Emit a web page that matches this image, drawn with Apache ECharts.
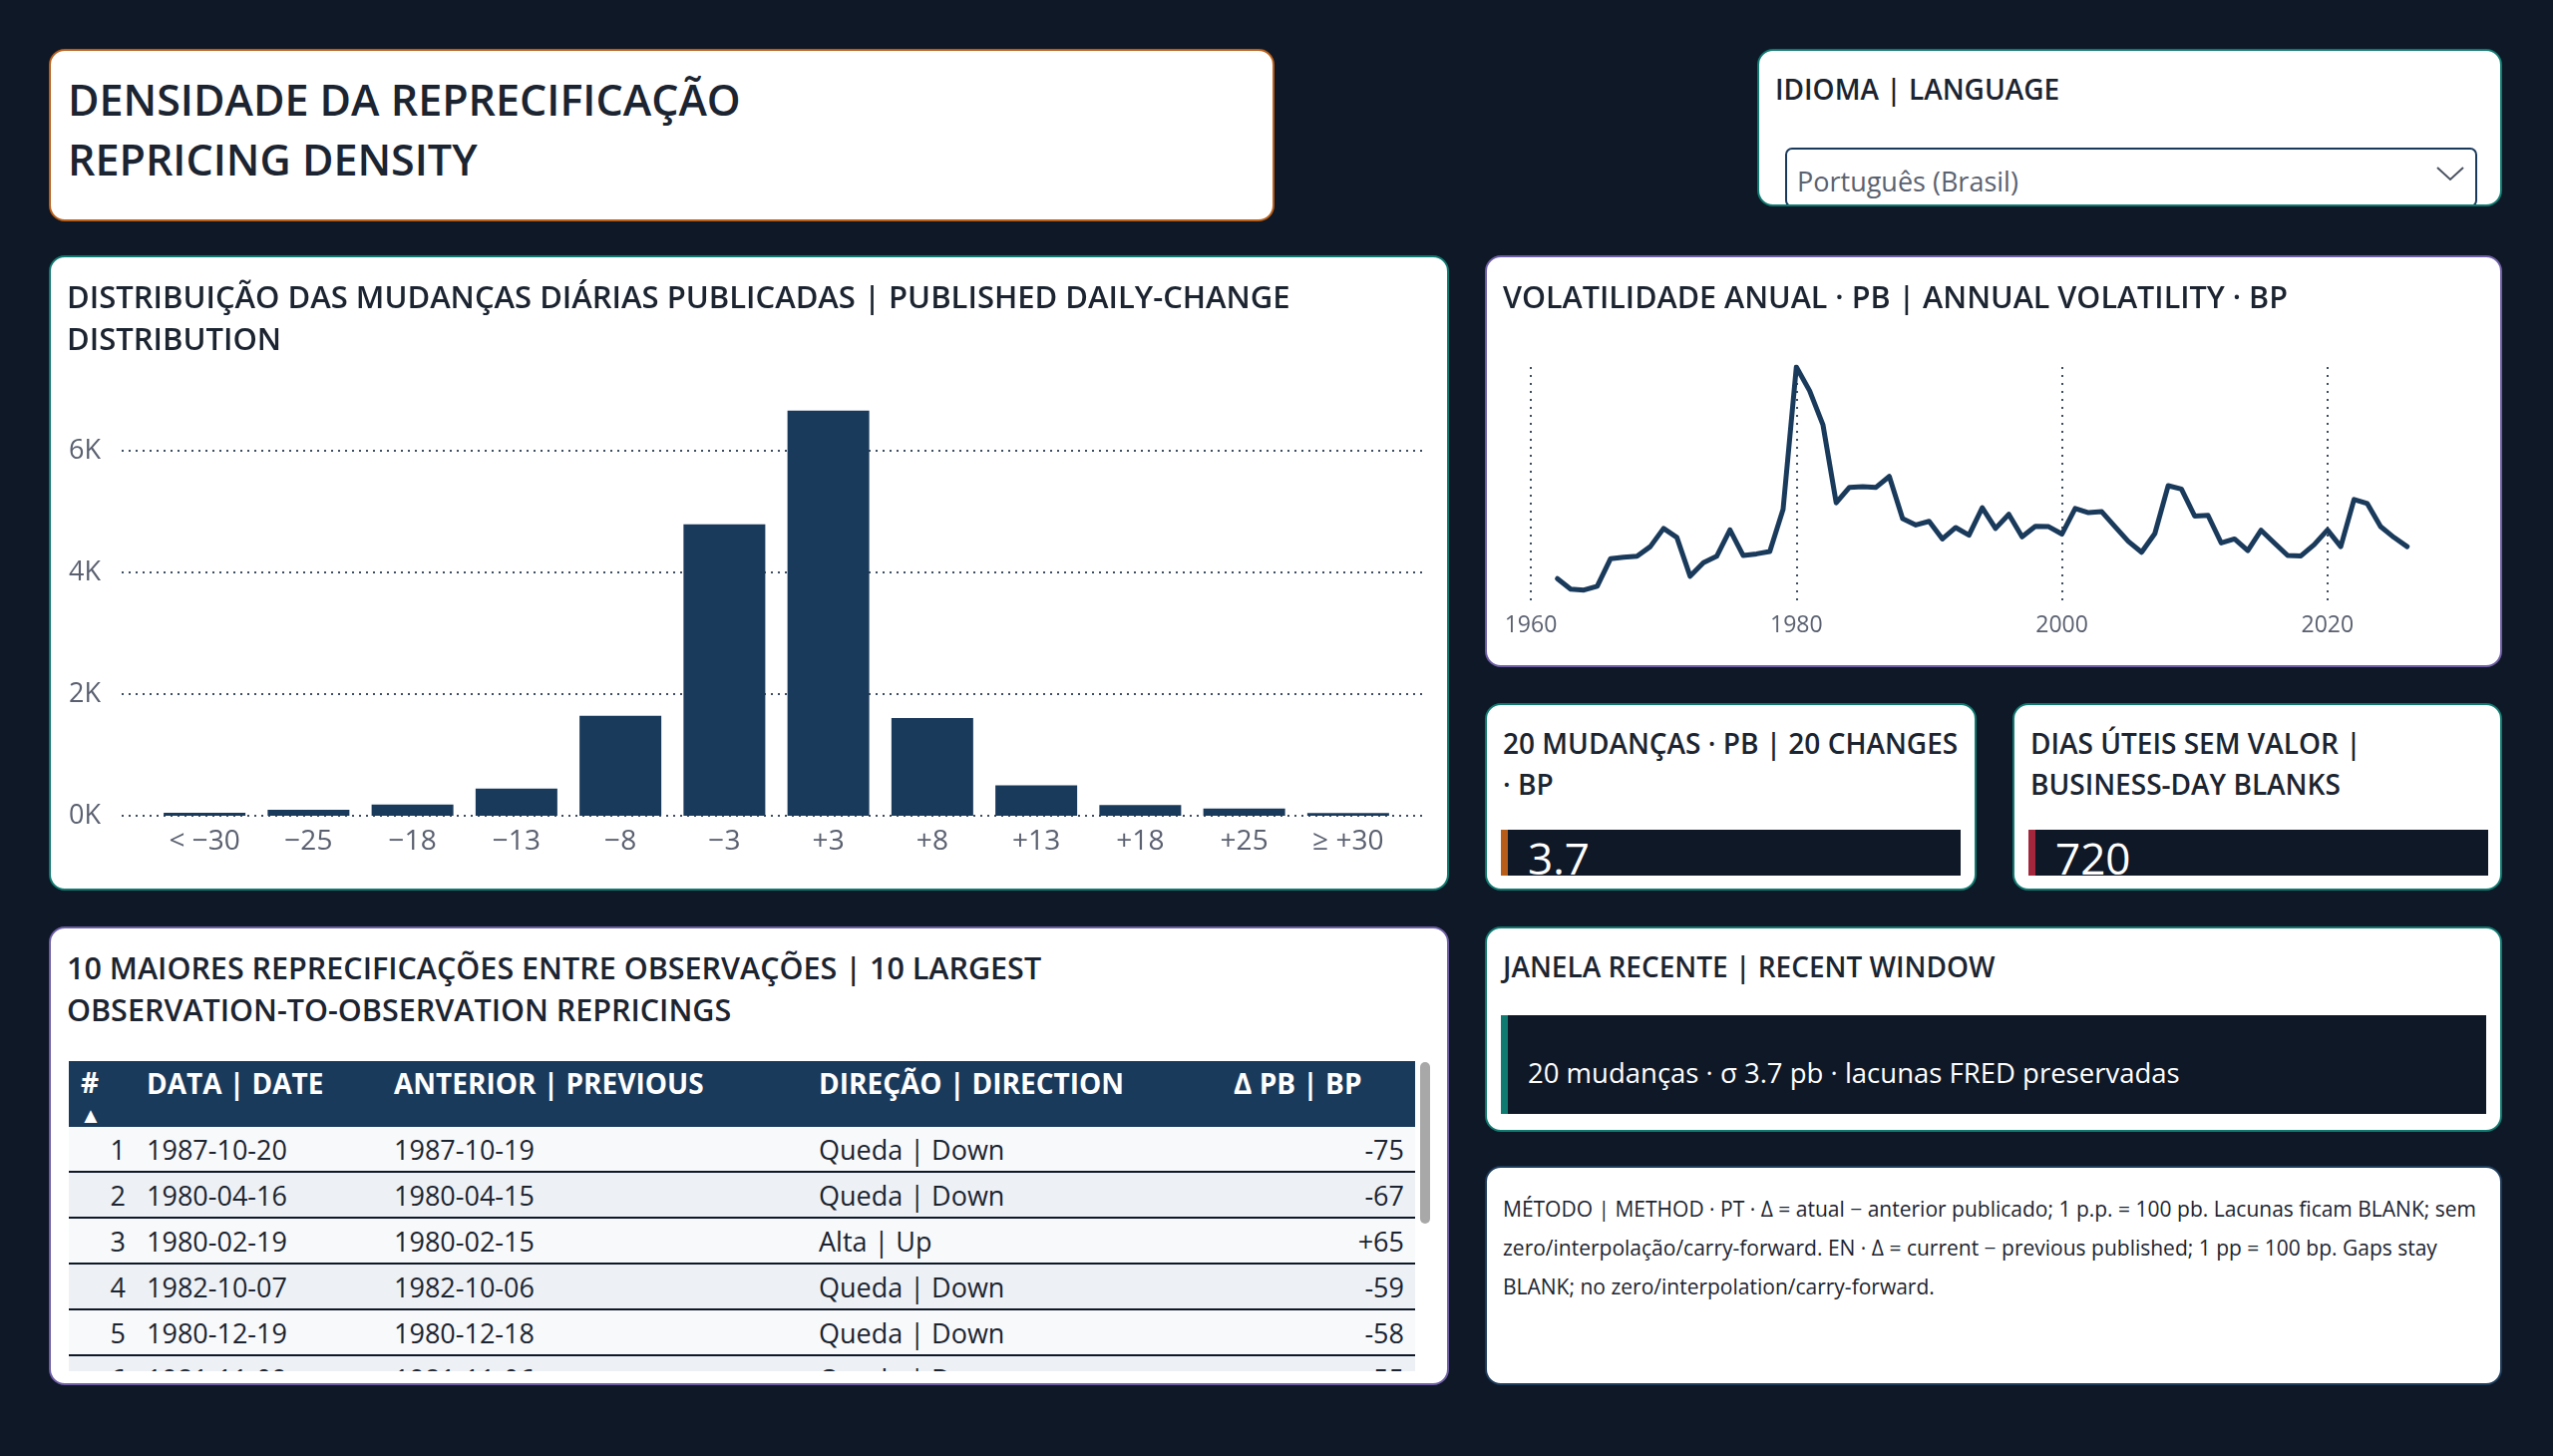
<!DOCTYPE html>
<html>
<head>
<meta charset="utf-8">
<title>Densidade da reprecificação | Repricing density</title>
<script src="https://cdn.jsdelivr.net/npm/echarts@6/dist/echarts.min.js"></script>
<style>
    html, body {
        margin: 0;
        padding: 0;
        width: 2560px;
        height: 1460px;
        background: #0f1827;
        overflow: hidden;
        font-family: 'Segoe UI', 'Open Sans', sans-serif;
        color: #1b2430;
    }
    .card {
        position: absolute;
        box-sizing: border-box;
        background: #ffffff;
        border: 2px solid #0f7a70;
        border-radius: 16px;
        overflow: hidden;
    }
    .card-title {
        position: absolute;
        left: 16px;
        top: 18px;
        font-size: 28px;
        font-weight: 600;
        line-height: 41px;
        white-space: nowrap;
        color: #1b2430;
    }
    .card-title.big {
        font-size: 30.5px;
        line-height: 42px;
    }
    .chart {
        position: absolute;
        left: 0;
        top: 0;
        width: 100%;
        height: 100%;
    }
    .kpi-box {
        position: absolute;
        left: 14px;
        top: 125px;
        width: 461px;
        height: 46px;
        background: #0f1827;
        overflow: hidden;
        box-sizing: border-box;
        border-left: 7px solid #b85c1a;
    }
    .kpi-value {
        position: absolute;
        left: 20px;
        top: 5px;
        font-size: 44px;
        line-height: 46px;
        color: #ffffff;
    }
    table {
        border-collapse: collapse;
        width: 1350px;
        font-size: 27px;
        table-layout: fixed;
    }
    th {
        background: #1a3a5c;
        color: #ffffff;
        font-weight: 700;
        font-size: 28px;
        text-align: left;
        height: 58px;
        vertical-align: top;
        padding: 6px 0 0 0;
        white-space: nowrap;
    }
    td {
        height: 44px;
        padding: 0;
        white-space: nowrap;
        border-bottom: 2px solid #0f1827;
        color: #1b2430;
    }
    tr.odd td { background: #f7f9fb; }
    tr.even td { background: #edf1f5; }
</style>
</head>
<body>

<!-- title -->
<div class="card" style="left:49px; top:49px; width:1229px; height:173px; border-color:#b95f19;">
    <div style="position:absolute; left:17px; top:19px; font-size:43px; font-weight:600; line-height:60px; color:#1b2430;">
        DENSIDADE DA REPRECIFICAÇÃO<br>REPRICING DENSITY
    </div>
</div>

<!-- language slicer -->
<div class="card" style="left:1762px; top:49px; width:747px; height:158px;">
    <div class="card-title">IDIOMA | LANGUAGE</div>
    <div style="position:absolute; left:26px; top:97px; width:694px; height:60px; box-sizing:border-box; border:2px solid #1a3a5c; border-radius:7px;">
        <div style="position:absolute; left:10px; top:12px; font-size:27px; line-height:40px; color:#5a6270;">Português (Brasil)</div>
        <svg style="position:absolute; right:10px; top:14px;" width="30" height="20" viewBox="0 0 30 20">
            <polyline points="2,4 15,16 28,4" fill="none" stroke="#4a5260" stroke-width="2"/>
        </svg>
    </div>
</div>

<!-- histogram -->
<div class="card" style="left:49px; top:256px; width:1404px; height:637px;">
    <div id="hist" class="chart"></div>
    <div class="card-title big" style="font-size:31px;">DISTRIBUIÇÃO DAS MUDANÇAS DIÁRIAS PUBLICADAS | PUBLISHED DAILY-CHANGE<br>DISTRIBUTION</div>
</div>

<!-- annual volatility -->
<div class="card" style="left:1489px; top:256px; width:1020px; height:413px; border-color:#6e5fa5;">
    <div id="vol" class="chart"></div>
    <div class="card-title big">VOLATILIDADE ANUAL · PB | ANNUAL VOLATILITY · BP</div>
</div>

<!-- KPI 1 -->
<div class="card" style="left:1489px; top:705px; width:493px; height:188px;">
    <div class="card-title">20 MUDANÇAS · PB | 20 CHANGES<br>· BP</div>
    <div class="kpi-box"><div class="kpi-value" id="kpi-sigma"></div></div>
</div>

<!-- KPI 2 -->
<div class="card" style="left:2018px; top:705px; width:491px; height:188px;">
    <div class="card-title">DIAS ÚTEIS SEM VALOR |<br>BUSINESS-DAY BLANKS</div>
    <div class="kpi-box" style="border-left-color:#a3263c;"><div class="kpi-value" id="kpi-blanks"></div></div>
</div>

<!-- recent window -->
<div class="card" style="left:1489px; top:929px; width:1020px; height:206px;">
    <div class="card-title">JANELA RECENTE | RECENT WINDOW</div>
    <div style="position:absolute; left:14px; top:87px; width:988px; height:99px; background:#0f1827; border-left:7px solid #0f7a70; box-sizing:border-box;">
        <div id="recent-text" style="position:absolute; left:20px; top:38px; font-size:27.5px; line-height:40px; color:#ffffff; white-space:nowrap;"></div>
    </div>
</div>

<!-- top repricings table -->
<div class="card" style="left:49px; top:929px; width:1404px; height:460px; border-color:#6e5fa5;">
    <div class="card-title big">10 MAIORES REPRECIFICAÇÕES ENTRE OBSERVAÇÕES | 10 LARGEST<br>OBSERVATION-TO-OBSERVATION REPRICINGS</div>
    <div style="position:absolute; left:18px; top:133px; width:1352px; height:311px; overflow:hidden;">
        <table id="top-table">
            <colgroup>
                <col style="width:78px"><col style="width:248px"><col style="width:426px">
                <col style="width:416px"><col style="width:182px">
            </colgroup>
        </table>
    </div>
    <div style="position:absolute; left:1373px; top:134px; width:10px; height:162px; background:#a8a8a8; border-radius:5px;"></div>
</div>

<!-- method note -->
<div class="card" style="left:1489px; top:1169px; width:1020px; height:220px; border-color:#1e3c5a;">
    <div style="position:absolute; left:16px; top:22px; font-size:21px; line-height:39px; color:#1b2430; white-space:nowrap;">
        MÉTODO | METHOD · PT · Δ = atual − anterior publicado; 1 p.p. = 100 pb. Lacunas ficam BLANK; sem<br>
        zero/interpolação/carry-forward. EN · Δ = current − previous published; 1 pp = 100 bp. Gaps stay<br>
        BLANK; no zero/interpolation/carry-forward.
    </div>
</div>

<script>
// Histogram bins (bp) and counts of published daily changes
const binLabels = ['< −30', '−25', '−18', '−13', '−8', '−3', '+3', '+8', '+13', '+18', '+25', '≥ +30'];
const binCounts = [50, 100, 185, 445, 1645, 4790, 6660, 1605, 500, 175, 120, 45];
const histTicks = [0, 2000, 4000, 6000];

// Annual volatility (bp)
const volYears = [
    1962, 1963, 1964, 1965, 1966, 1967, 1968, 1969, 1970, 1971, 1972, 1973, 1974, 1975, 1976, 1977, 1978, 1979,
    1980, 1981, 1982, 1983, 1984, 1985, 1986, 1987, 1988, 1989, 1990, 1991, 1992, 1993, 1994, 1995, 1996, 1997,
    1998, 1999, 2000, 2001, 2002, 2003, 2004, 2005, 2006, 2007, 2008, 2009, 2010, 2011, 2012, 2013, 2014, 2015,
    2016, 2017, 2018, 2019, 2020, 2021, 2022, 2023, 2024, 2025, 2026
];
const volValues = [
    1.36, 0.78, 0.73, 0.94, 2.45, 2.54, 2.59, 3.12, 4.12, 3.63, 1.49, 2.23, 2.59, 4.04, 2.63, 2.72, 2.85, 5.17,
    13.0, 11.69, 9.83, 5.53, 6.38, 6.42, 6.38, 6.98, 4.66, 4.31, 4.51, 3.54, 4.17, 3.75, 5.26, 4.12, 4.90, 3.66,
    4.24, 4.22, 3.81, 5.22, 4.99, 5.04, 4.22, 3.41, 2.81, 3.84, 6.47, 6.29, 4.80, 4.84, 3.32, 3.54, 2.90, 4.02,
    3.32, 2.63, 2.61, 3.23, 4.04, 3.12, 5.71, 5.49, 4.22, 3.63, 3.12
];
const volTicks = [1960, 1980, 2000, 2020];

// KPIs
const kpiSigma = '3.7';
const kpiBlanks = '720';
const recentText = '20 mudanças · σ 3.7 pb · lacunas FRED preservadas';

// Top repricings table
const tableHeaders = ['#', 'DATA | DATE', 'ANTERIOR | PREVIOUS', 'DIREÇÃO | DIRECTION', 'Δ PB | BP'];
const tableRank = [1, 2, 3, 4, 5, 6];
const tableDate = ['1987-10-20', '1980-04-16', '1980-02-19', '1982-10-07', '1980-12-19', '1981-11-09'];
const tablePrev = ['1987-10-19', '1980-04-15', '1980-02-15', '1982-10-06', '1980-12-18', '1981-11-06'];
const tableDir = ['Queda | Down', 'Queda | Down', 'Alta | Up', 'Queda | Down', 'Queda | Down', 'Queda | Down'];
const tableDelta = ['-75', '-67', '+65', '-59', '-58', '-55'];

const FONT = "'Segoe UI', 'Open Sans', sans-serif";
const NAVY = '#1a3a5c';
const LABEL = '#5a6070';

document.addEventListener('DOMContentLoaded', function() {
    initHistogram();
    initVolatility();
    fillKpis();
    fillTable();
});

function initHistogram() {
    const chart = echarts.init(document.getElementById('hist'), null, { renderer: 'canvas' });
    const gridTop = 133, gridBottom = 73;

    chart.setOption({
        animation: false,
        backgroundColor: 'transparent',
        grid: [
            { left: 71, right: 23, top: gridTop, bottom: gridBottom, outerBoundsMode: 'none' },
            { left: 102, right: 47, top: gridTop, bottom: gridBottom, outerBoundsMode: 'none' }
        ],
        xAxis: [
            { gridIndex: 0, type: 'value', min: 0, max: 1, show: false },
            {
                gridIndex: 1,
                type: 'category',
                data: binLabels,
                axisLine: { show: false },
                axisTick: { show: false },
                axisLabel: { color: LABEL, fontSize: 28, fontFamily: FONT, margin: 12, interval: 0 }
            }
        ],
        yAxis: [
            {
                gridIndex: 0,
                type: 'value',
                min: 0,
                max: 7000,
                interval: 2000,
                axisLine: { show: false },
                axisTick: { show: false },
                axisLabel: {
                    color: LABEL,
                    fontSize: 27,
                    fontFamily: FONT,
                    margin: 21,
                    showMaxLabel: false,
                    formatter: function(v) { return histTicks.indexOf(v) >= 0 ? (v / 1000) + 'K' : ''; }
                },
                splitLine: {
                    show: true,
                    showMaxLine: false,
                    lineStyle: { color: '#3d4d62', width: 2, type: [2, 5] }
                }
            },
            { gridIndex: 1, type: 'value', min: 0, max: 7000, show: false }
        ],
        series: [{
            type: 'bar',
            xAxisIndex: 1,
            yAxisIndex: 1,
            data: binCounts,
            barWidth: 82,
            itemStyle: { color: NAVY },
            z: 1
        }]
    });

    window.addEventListener('resize', function() { chart.resize(); });
}

function initVolatility() {
    const chart = echarts.init(document.getElementById('vol'), null, { renderer: 'canvas' });

    chart.setOption({
        animation: false,
        backgroundColor: 'transparent',
        grid: { left: 44, right: 40, top: 110, bottom: 62, outerBoundsMode: 'none' },
        xAxis: {
            type: 'value',
            min: 1960,
            max: 2030,
            interval: 20,
            axisLine: { show: false },
            axisTick: { show: false },
            axisLabel: {
                color: LABEL,
                fontSize: 23,
                fontFamily: FONT,
                margin: 11,
                showMaxLabel: false,
                formatter: function(v) { return volTicks.indexOf(v) >= 0 ? String(v) : ''; }
            },
            splitLine: {
                show: true,
                showMaxLine: false,
                lineStyle: { color: '#3d4d62', width: 2, type: [2, 6] }
            }
        },
        yAxis: {
            type: 'value',
            min: 0,
            max: 'dataMax',
            show: false,
            splitLine: { show: false }
        },
        series: [{
            type: 'line',
            data: volYears.map(function(y, i) { return [y, volValues[i]]; }),
            showSymbol: false,
            lineStyle: { color: NAVY, width: 5, join: 'round', cap: 'round' },
            itemStyle: { color: NAVY }
        }]
    });

    window.addEventListener('resize', function() { chart.resize(); });
}

function fillKpis() {
    document.getElementById('kpi-sigma').textContent = kpiSigma;
    document.getElementById('kpi-blanks').textContent = kpiBlanks;
    document.getElementById('recent-text').textContent = recentText;
}

function fillTable() {
    const table = document.getElementById('top-table');
    const head = document.createElement('tr');
    tableHeaders.forEach(function(h, i) {
        const th = document.createElement('th');
        if (i === 0) {
            th.innerHTML = '<span style="padding-left:12px">#</span><br><span style="padding-left:11px; font-size:22px; line-height:20px">▲</span>';
            th.style.lineHeight = '30px';
        } else {
            th.textContent = h;
            th.style.lineHeight = '32px';
        }
        head.appendChild(th);
    });
    table.appendChild(head);

    tableRank.forEach(function(r, i) {
        const tr = document.createElement('tr');
        tr.className = i % 2 === 0 ? 'odd' : 'even';
        const cells = [r, tableDate[i], tablePrev[i], tableDir[i], tableDelta[i]];
        cells.forEach(function(c, j) {
            const td = document.createElement('td');
            td.textContent = c;
            if (j === 0) {
                td.style.textAlign = 'right';
                td.style.paddingRight = '21px';
            }
            if (j === 4) {
                td.style.textAlign = 'right';
                td.style.paddingRight = '11px';
            }
            tr.appendChild(td);
        });
        table.appendChild(tr);
    });
}
</script>
</body>
</html>
